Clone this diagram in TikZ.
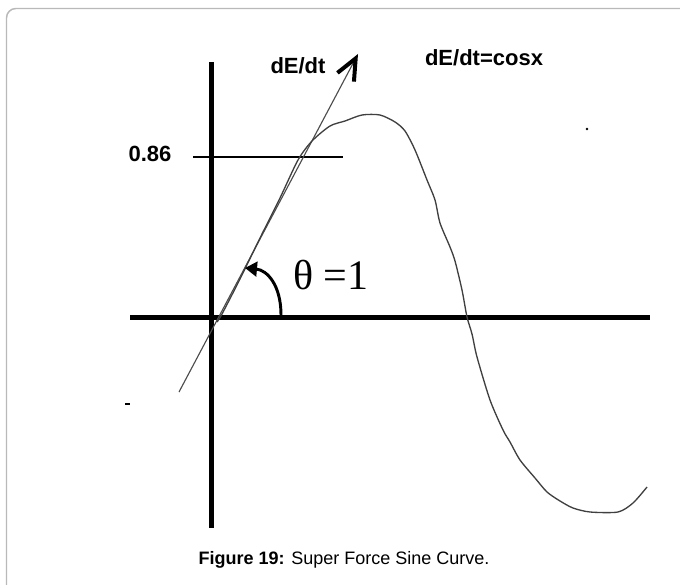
\documentclass[tikz,border=0pt]{standalone}
\usepackage{fontspec}
\setmainfont{Liberation Sans}
\newfontfamily\thetafont{Liberation Serif}
\usetikzlibrary{arrows.meta}

\begin{document}
\begin{tikzpicture}[x=0.75pt, y=-0.75pt,
  axisline/.style={line width=3.75pt},
  thinline/.style={line width=0.9pt},
  tangentline/.style={line width=0.85pt, black!70,
    -{Straight Barb[length=16pt, width=14pt, line width=3pt, color=black]}},
  anglearrow/.style={line width=2.2pt, -{Triangle[length=9pt, width=11pt]}},
  sinecurve/.style={line width=1pt, black!75},
  lbl/.style={font=\fontsize{16.5}{18}\selectfont\bfseries, inner sep=0pt}]
  \clip (0,0) rectangle (680,584);
  \useasboundingbox (0,0) rectangle (680,584);

  % Frame
  \draw[gray!55, line width=1.1pt, rounded corners=7] (6.5,620) -- (6.5,8.5) -- (720,8.5);

  % Axes
  \coordinate (O) at (214,318);
  \coordinate (ytop) at (211.5,62);
  \coordinate (ybot) at (211.5,528);
  \coordinate (xleft) at (130,317);
  \coordinate (xright) at (650,317);
  \draw[axisline] (ytop) -- (ybot);
  \draw[axisline] (xleft) -- (xright);

  % Level 0.86
  \node[lbl] (level) at (150,154) {0.86};
  \coordinate (lvlA) at (193,157);
  \coordinate (lvlB) at (343,157);
  \draw[thinline] (lvlA) -- (lvlB);

  % Tangent dE/dt
  \coordinate (tanlo) at (179,392);
  \coordinate (tanhi) at (358,54);
  \draw[tangentline] (tanlo) -- (tanhi);
  \node[lbl] (dedt) at (298,66) {dE/dt};
  \node[lbl] (formula) at (484,58) {dE/dt=cosx};

  % Sine curve
  \draw[sinecurve] plot[smooth, tension=0.45] coordinates {
    (217,322) (222,314) (240,279) (260,238) (280,198) (298,160)
    (312,141) (330,126) (345,121) (362,115) (380,115) (395,122)
    (405,131) (415,150) (427,180) (435,200) (440,223) (450,247)
    (455,261) (462,290) (467,317) (472,334) (477,357) (490,400)
    (503,430) (510,442) (520,460) (535,478) (547,492) (560,501)
    (573,508) (590,512) (618,512) (633,503) (647,487)};

  % Angle
  \coordinate (arcstart) at (281,315);
  \coordinate (arctip) at (245,268);
  \draw[anglearrow] (arcstart) .. controls +(0,-30) and +(22,2) .. (arctip);
  \node[font=\thetafont\fontsize{31.5}{34}\selectfont, inner sep=0pt] (theta) at (331,275) {θ =1};

  % Stray marks
  \fill (587,129) circle[radius=1pt];
  \coordinate (dashA) at (125,404);
  \coordinate (dashB) at (130,404);
  \draw[line width=0.8pt] (dashA) -- (dashB);

  % Caption
  \node[font=\fontsize{13.5}{15}\selectfont, inner sep=0pt] (caption) at (344,560)
    {\textbf{Figure 19:} Super Force Sine Curve.};
\end{tikzpicture}
\end{document}
